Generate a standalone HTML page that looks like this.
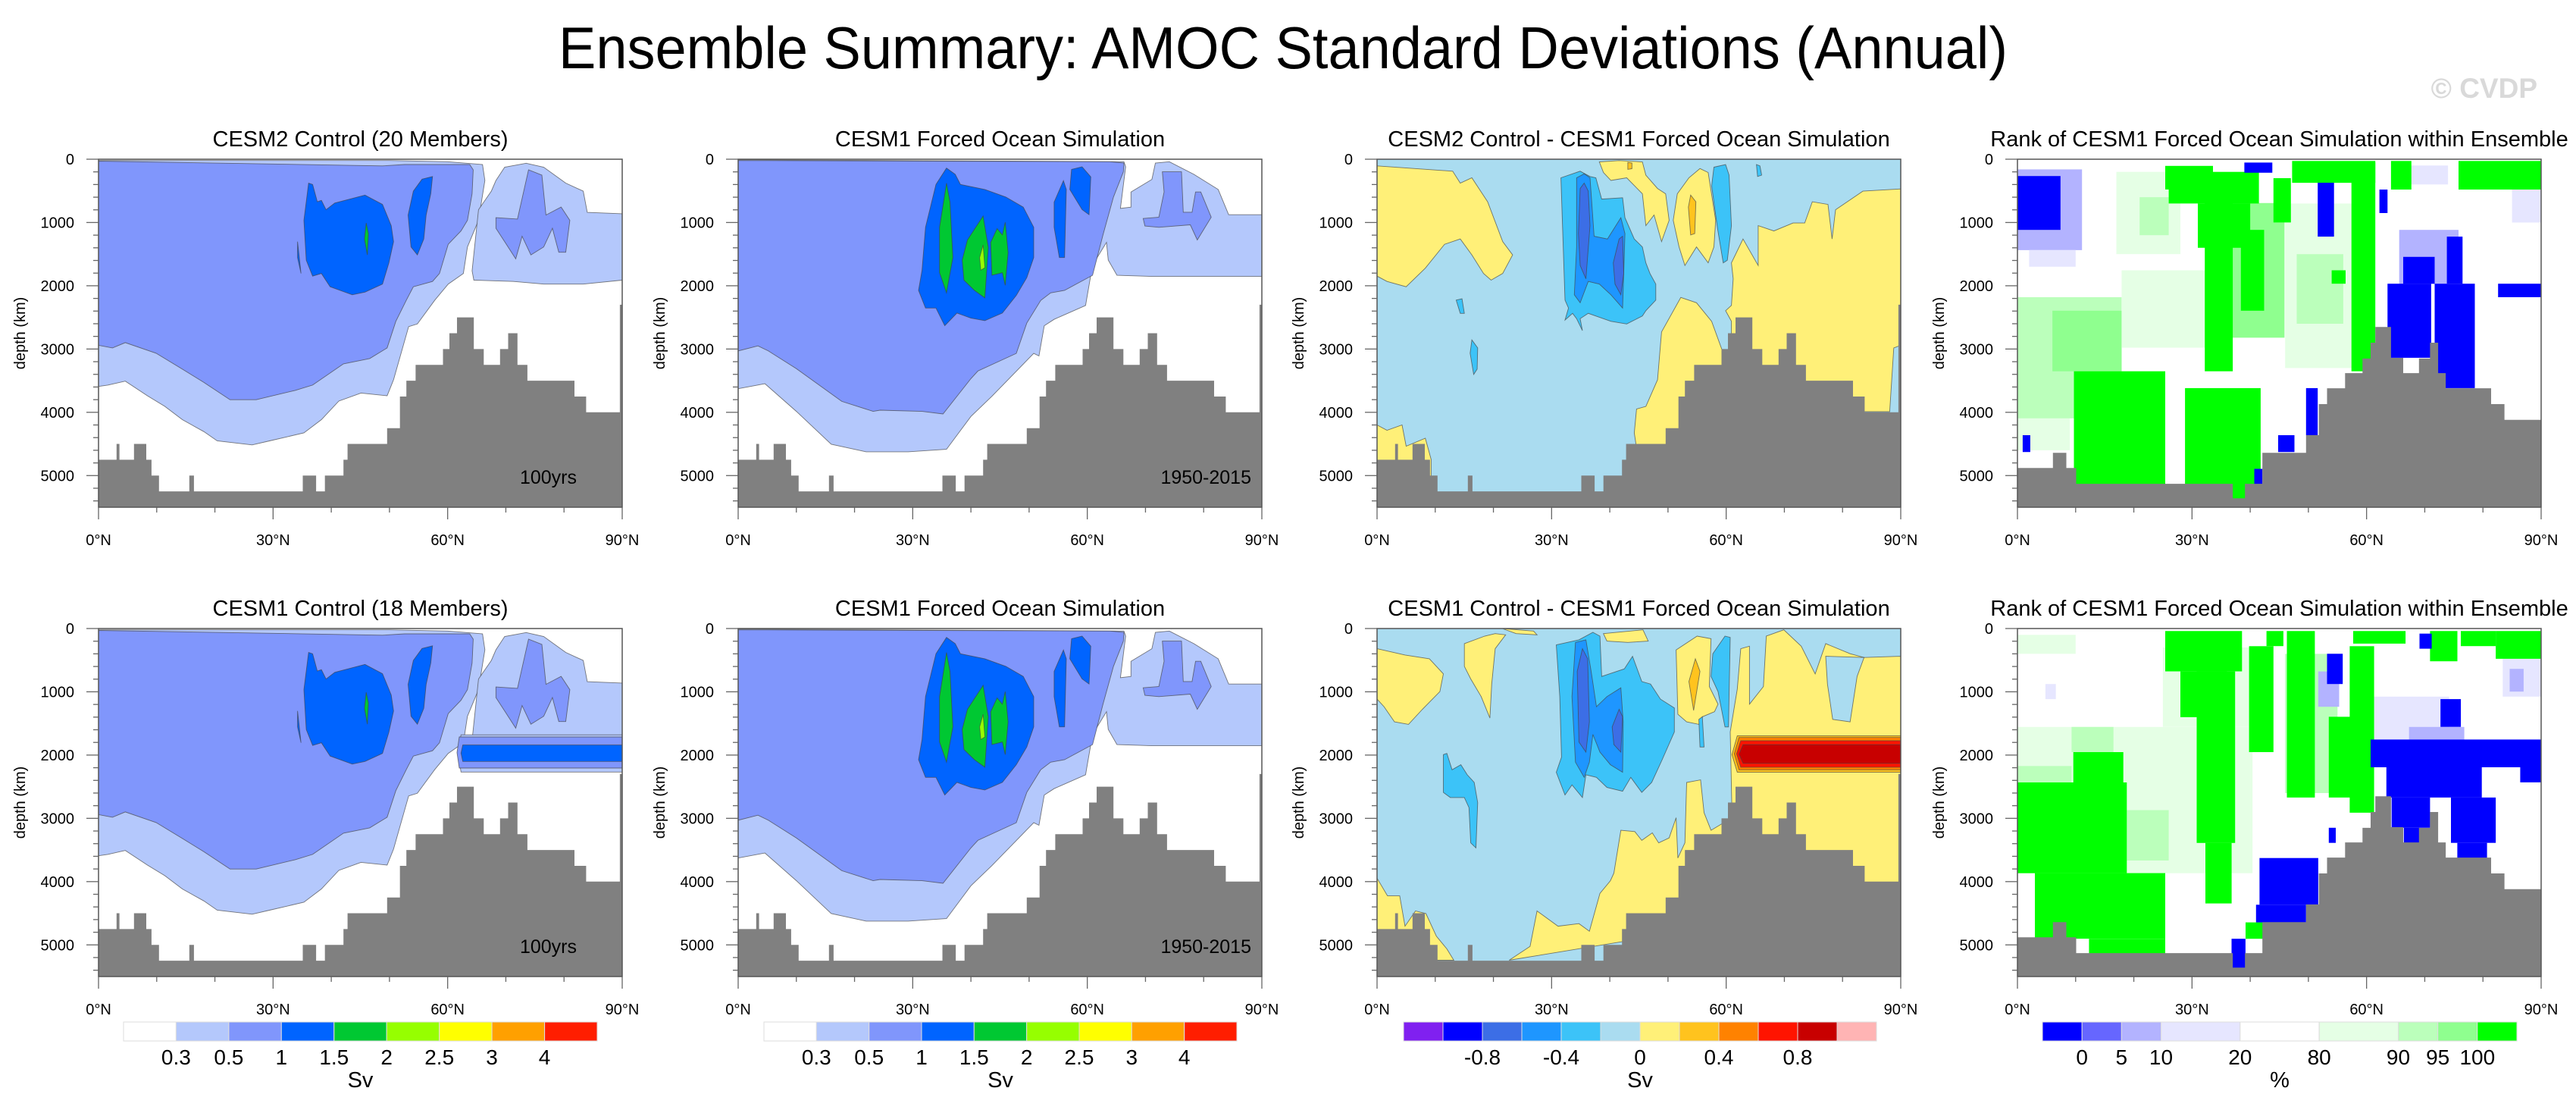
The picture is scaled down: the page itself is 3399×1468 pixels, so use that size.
<!DOCTYPE html>
<html><head><meta charset="utf-8">
<style>
html,body{margin:0;padding:0;background:#fff;width:3399px;height:1468px;overflow:hidden}
svg{display:block}
text{font-family:"Liberation Sans",sans-serif}
</style></head>
<body>
<svg id="fig" width="3399" height="1468" viewBox="0 0 3399 1468" xmlns="http://www.w3.org/2000/svg">
<text x="1693" y="90" font-size="78" text-anchor="middle" textLength="1912" lengthAdjust="spacingAndGlyphs">Ensemble Summary: AMOC Standard Deviations (Annual)</text>
<text x="3348" y="129" font-size="37" font-weight="bold" fill="#d9d9d9" text-anchor="end">© CVDP</text>
</svg>
<script>
// ---------- axes data ----------
const latTicks=[0,30,60,90];
const latTickLabels=["0°N","30°N","60°N","90°N"];
const depthTicks=[0,1000,2000,3000,4000,5000];
const depthMax=5500;

// ---------- bathymetry ----------
const bathyALat=[0,3.1,3.6,6.1,8.2,9.1,10.4,15.6,16.4,35.1,37.4,38.9,42.1,42.8,49.6,51.8,52.9,54.5,59.2,60.3,61.6,64.5,66.2,69.0,70.4,72.0,73.7,81.8,83.8,89.6];
const bathyADepth=[4750,4500,4750,4500,4750,5000,5250,5000,5250,5000,5250,5000,4750,4500,4250,3750,3500,3250,3000,2750,2500,3000,3250,3000,2750,3250,3500,3750,4000,2300];
const bathyBLat=[0,6.1,8.4,10.1,37.0,39.1,42.1,49.6,51.8,53.2,56.3,59.3,60.7,61.5,64.2,66.3,69.0,70.9,72.3,73.6,81.4,83.7];
const bathyBDepth=[4880,4640,4880,5130,5360,5130,4640,4360,3870,3620,3380,3150,2900,2650,3140,3380,3150,2900,3380,3620,3870,4120];

// ---------- panel 1 (control std dev) contours: [lat,depth,...] ----------
const p1LightMain=[0,20,50,20,60,40,66,84,66.4,336,65.3,966,63.4,1386,62.7,1806,60.1,1974,57.8,2226,54.8,2604,53.3,2646,50.7,3486,49.6,3738,45.1,3696,41.3,3822,38.3,4116,35.3,4326,29.4,4452,26.4,4515,20.4,4452,18.1,4305,14.4,4116,11.4,3906,8.4,3738,4.6,3507,1.6,3570,0,3591];
const p1LightRight=[68.3,336,69.8,126,73.5,63,76.5,126,80.3,378,83.3,504,84.0,840,90,861,90,1911,83.3,1974,76.5,1974,71.3,1932,64.5,1911,64.2,1764,65.3,798,67.5,504];
const p1MidMain=[0,30,48.8,105,52.6,84,63.8,84,64.4,168,64.2,546,63.4,966,62.3,1134,60.1,1344,58.6,1806,57.4,1932,54.1,2016,52.9,2226,51.1,2562,49.6,2982,46.6,3150,42.1,3234,36.8,3570,33.8,3654,27.1,3801,22.6,3801,18.1,3528,14.4,3318,9.9,3066,4.6,2898,2.4,2982,0,2940];
const p1MidRight=[68.3,924,72.0,945,73.9,168,76.2,252,76.9,882,79.5,756,81.0,966,80.3,1470,79.1,1470,78.0,1092,76.5,1386,74.3,1512,72.8,1218,71.7,1575,69.8,1302,68.3,1092];
const p1DeepA=[36.1,378,36.8,399,37.6,672,38.3,651,39.1,798,40.6,693,45.8,567,48.8,714,50.3,1050,50.7,1302,49.9,1638,48.8,1974,45.8,2100,43.6,2142,39.8,2016,38.3,1806,36.8,1848,35.7,1596,35.3,966];
const p1DeepSmall=[34.2,1302,34.8,1806,34.2,1554];
const p1DeepB=[55.6,315,57.4,273,57.1,546,56.3,882,55.9,1260,54.8,1512,53.7,1386,53.2,882,54.1,504];
const p1Green=[46.0,1008,46.4,1176,46.2,1512,45.7,1260];
const r2BandLight=[62.3,1680,90,1680,90,2268,62.3,2268,61.8,1970];
const r2BandMid=[62.0,1714,90,1714,90,2205,62.0,2205,61.6,1960];
const r2BandDeep=[62.6,1840,90,1840,90,2100,62.6,2100,62.3,1970];

// ---------- panel 2 (forced ocean sim) ----------
const p2Light=[0,8,66.3,40,66.6,120,65.7,777,67.5,757,67.5,518,71.1,319,71.7,60,74.1,40,78.3,239,82.5,478,84.3,877,90,877,90,1853,71.1,1853,65.1,1834,63.6,1594,63.3,1315,60.9,1674,59.7,2312,54.3,2531,52.6,2631,51.7,3109,50.8,3069,43.6,3747,40.0,4066,35.8,4584,29.2,4624,22.0,4624,16.0,4504,10.0,3986,4.6,3548,0,3627];
const p2Mid=[0,20,63.9,40,66.3,60,66.2,199,64.5,598,62.7,1196,60.9,1834,58.5,1953,56.1,2073,53.7,2113,52.0,2232,49.6,2591,47.8,3069,41.2,3348,40.0,3468,35.2,4026,31.6,3986,24.4,3966,23.2,3986,17.8,3827,10.0,3309,5.2,3030,3.4,2950,0,3030];
const p2MidRight=[72.9,199,76.2,199,76.5,837,78.0,837,78.6,518,79.5,518,81.3,917,78.9,1276,77.7,1037,72.3,1076,69.9,1056,69.6,937,72.3,917,73.2,518];
const p2DeepA=[34.0,399,35.8,140,37.3,239,38.2,399,42.4,478,44.2,538,46.0,598,49.0,757,50.8,1076,50.8,1554,49.6,1873,47.8,2152,45.4,2431,42.4,2551,40.0,2511,37.6,2431,35.5,2631,34.0,2352,32.2,2352,31.0,2073,31.6,1754,32.2,1076];
const p2DeepB=[57.3,160,59.1,120,60.6,279,60.3,877,59.1,797,57.0,478];
const p2DeepC=[55.9,339,56.4,478,56.1,1554,55.2,1554,54.3,1076,54.3,678];
const p2Green1=[35.8,379,36.4,678,36.9,1554,35.8,2113,34.6,1794,34.6,1076];
const p2Green2=[42.1,897,43.0,1395,42.4,2192,40.6,2073,38.8,1913,38.5,1594,39.4,1276];
const p2Green3=[44.5,1096,45.4,1196,45.9,997,46.4,1475,45.9,1993,45.4,1794,43.6,1834,43.4,1315];
const p2Lime=[42.1,1355,42.4,1714,41.7,1754,41.5,1555];

// ---------- panel 3 row 1 (difference) ----------
const d1Y1=[0,105,13.0,189,14.3,378,16.3,294,19.0,672,21.6,1302,23.3,1512,21.6,1806,19.6,1911,18.3,1806,16.3,1512,14.3,1260,11.6,1344,8.3,1722,5.0,2016,1.7,1932,0,1848];
const d1Y2=[61.2,1890,60.9,1638,62.9,1260,65.5,1680,65.5,1050,68.2,1134,71.5,1008,73.5,1008,74.8,672,77.5,714,78.2,1260,78.8,798,83.5,504,90,470,90,2940,88.8,2982,88.1,3990,60.9,3990,60.9,2562,59.9,2394,60.9,2310];
const d1Y3=[48.9,2730,52.2,2184,54.9,2268,57.5,2562,59.5,3066,60.9,3990,54.9,4746,44.9,4746,44.2,4326,44.6,3948,46.2,3906,48.2,3486];
const d1Y4=[38.2,42,41.6,21,45.6,42,46.2,252,48.2,462,49.6,546,50.2,966,48.9,1302,47.6,882,46.2,1050,45.6,546,42.9,294,40.2,336,38.9,210];
const d1Y5=[51.6,546,53.6,294,55.5,147,56.9,210,58.2,966,57.9,1386,56.9,1638,54.9,1386,52.9,1680,51.9,1386,50.9,966];
const d1Y6=[0,4200,1.7,4284,4.3,4200,5.0,4536,8.3,4410,9.3,4746,9.3,5300,0,5300];
const d1O1=[53.9,567,54.8,672,54.6,1176,53.9,1197,53.5,756];
const d1O2=[43.1,50,43.8,60,43.8,150,43.1,160];
const d1B1=[31.6,294,34.9,189,36.6,273,37.6,294,38.6,630,42.2,609,42.6,924,44.2,1260,45.6,1386,46.2,1638,46.9,1806,47.9,1974,47.9,2226,46.2,2394,45.6,2478,42.9,2604,40.2,2562,37.6,2478,36.3,2436,34.9,2520,35.3,2709,34.3,2520,33.6,2436,32.3,2541,32.9,2352,32.3,2226];
const d1B2=[34.3,294,35.6,231,36.6,294,37.3,1218,39.6,1260,41.9,924,42.6,1176,42.2,2352,40.2,2142,38.2,1974,36.3,1932,34.9,2268,33.9,2142,34.3,1386];
const d1B3a=[34.9,462,35.6,378,36.3,504,36.6,1050,35.9,1890,34.9,1680,34.6,1176];
const d1B3b=[41.6,1260,42.2,1218,42.4,1806,41.9,2142,40.9,1974,40.6,1638];
const d1B4=[57.9,126,59.9,84,60.5,252,60.9,1050,60.2,1596,59.5,1638,58.5,1092,57.5,420];
const d1B5=[16.3,2856,17.3,2982,17.2,3318,16.6,3402,16.0,3066];
const d1B6=[13.6,2226,14.6,2205,15.0,2436,14.3,2436];
const d1B7=[65.2,84,65.8,105,66.1,252,65.4,273];

// ---------- panel 3 row 2 (difference) ----------
const d2Y1=[0,319,4.8,418,9.0,478,11.4,717,10.8,997,7.8,1276,5.4,1515,3.0,1475,1.2,1236,0,1116];
const d2Y2=[15.0,239,18.5,120,20.3,80,22.1,100,20.3,319,19.7,877,19.4,1415,17.9,1076,16.1,797,15.0,598];
const d2Y3=[21.5,0,26.9,40,27.5,100,23.9,80];
const d2Y4=[38.9,80,45.7,20,46.6,199,43.1,219,39.5,199];
const d2Y5=[51.4,339,55.0,120,57.4,160,57.1,917,58.6,1196,58.0,1315,55.9,1395,55.3,1515,53.2,1475,51.7,1355];
const d2Y6=[60.7,1634,61.9,957,62.5,319,64.0,279,64.0,1196,66.4,917,66.9,120,69.9,20,72.9,279,75.3,718,77.1,239,81.3,398,83.7,458,90,438,90,4664,60.7,4664,61.0,2910];
const d2LB=[77.1,438,83.7,458,82.5,757,81.3,1475,78.3,1435,77.4,877];
const d2Y7=[41.9,3189,44.3,3209,45.5,3348,47.3,3229,48.4,3388,50.2,3309,51.4,2990,51.7,3627,52.9,3388,53.2,2432,55.6,2392,56.2,2910,57.4,3189,61.0,2990,61.0,4664,22.7,5242,26.3,5023,27.5,4464,31.1,4704,34.7,4664,36.5,4784,38.3,4185,40.1,3986,40.7,3866];
const d2Y8=[0,3946,1.8,4225,3.9,4225,4.8,4704,6.6,4464,8.4,4504,10.2,4863,12.0,5063,13.2,5242,0,5242];
const d2O1=[54.7,478,55.5,678,54.4,1295,53.6,837];
const d2Band1=[61.9,1694,90,1694,90,2272,61.9,2272,61.0,1993];
const d2Band2=[62.2,1722,90,1722,90,2232,62.2,2232,61.4,1980];
const d2Band3=[62.5,1774,90,1774,90,2192,62.5,2192,61.8,1980];
const d2Band4=[62.9,1834,90,1834,90,2132,62.9,2132,62.2,1985];
const d2B1=[30.8,259,34.7,179,37.1,60,38.3,120,38.6,757,42.5,638,43.9,439,45.5,837,47.0,877,48.7,1116,51.1,1256,51.1,1634,49.0,2073,47.2,2432,45.5,2591,43.6,2352,42.2,2571,39.5,2511,37.7,2352,35.9,2312,35.3,2671,33.5,2471,32.3,2631,30.8,2272,31.7,2033,31.4,1076];
const d2B2=[34.1,219,35.9,179,36.8,678,37.7,1236,39.5,1076,41.9,937,42.3,1475,42.2,2272,40.1,2152,38.3,1953,37.1,1674,36.5,2113,35.6,2352,34.1,2113,33.5,1076];
const d2B3a=[35.3,319,36.2,478,36.5,1475,35.9,1953,34.7,1794,34.4,678];
const d2B3b=[41.6,1276,42.2,1395,41.9,1953,40.7,1834,40.4,1555];
const d2B4=[11.4,1993,12.0,1973,12.9,2232,14.4,2152,15.5,2312,16.7,2432,17.3,2751,17.0,3468,16.1,3388,15.8,2830,15.0,2671,13.8,2671,12.6,2671,11.4,2591];
const d2B5=[57.7,399,59.8,120,60.7,140,60.4,1555,59.8,1555,58.6,997,57.4,757];
const d2B6=[55.3,1435,55.9,1395,56.2,1873,55.5,1873];

// ---------- rank panels: [lat0,lat1,depth0,depth1,category] ----------
const rank1Cells=[
[0,9,4096,4600,5],[0,17.9,2181,4096,6],[6.0,17.9,2394,3352,7],[17.9,32.9,1756,2979,5],[17,28,200,1500,5],[21,26,600,1200,6],
[36.3,45.9,692,2820,7],[46,60,700,3300,5],[48,56,1500,2600,6],[66,74,100,400,3],[85,90,400,1000,3],
[0,11.1,160,1436,2],[2,10,1436,1700,3],[65.6,75.8,1117,1968,2],
[25.4,33.6,106,479,8],[26,41.5,200,700,8],[31,40,700,1400,8],[32.2,37.0,372,3352,8],[38.4,42.4,1117,2394,8],[9.7,25.4,3352,5373,8],[28.8,41.8,3618,5373,8],[47.2,61.5,27,372,8],[57.4,61.5,53,3352,8],[64.2,67.7,27,479,8],[75.8,90,27,479,8],[54.0,56.4,1756,1968,8],[44,47,300,1000,8],
[0,7.4,266,1117,0],[51.6,54.4,372,1224,0],[62.2,63.6,479,851,0],[63.6,71.1,1968,3139,0],[66.3,71.7,1543,1968,0],[71.7,78.6,1968,3618,0],[73.8,76.5,1224,1968,0],[82.6,90,1968,2181,0],[49.6,51.6,3618,4362,0],[44.8,47.6,4362,4628,0],[10.4,12.8,5134,5373,0],[40.7,42.1,4894,5134,0],[39.0,43.8,53,213,0],[0.9,2.2,4362,4628,0]
];
const rank2Cells=[
[0,40.4,1555,3866,5],[25,40,300,1555,5],[61.3,74.2,1076,1754,3],[83.4,90,478,1076,3],[4.8,6.6,877,1116,3],[0,10,100,400,5],
[9.3,16.5,1555,1953,6],[18.8,26.0,2870,3667,6],[0,9.3,2172,2432,6],[46,55,400,2600,6],
[0,18.8,2432,3866,8],[9.6,18.2,1953,2432,8],[3.0,25.4,3866,4903,8],[12.3,25.4,4903,5142,8],[15.8,19.1,5142,5381,8],
[25.4,38.6,40,678,8],[28,36,678,1400,8],[30.8,37.4,678,3388,8],[32.3,36.8,3388,4345,8],[39.8,44.0,279,1953,8],[42.8,45.7,40,279,8],
[46.3,51.1,40,2671,8],[53.5,58.3,1395,2671,8],[57.1,61.3,279,2910,8],[57.7,66.7,40,239,8],[70.9,75.6,40,518,8],[82.2,90,40,478,8],[76.2,82.2,40,279,8],[39.2,42.5,4644,4903,8],
[51.7,55.3,678,1236,2],[67.3,76.8,1555,1754,2],[84.6,87.0,638,997,2],
[60.7,90,1754,2192,0],[63.4,79.8,2192,2671,0],[86.4,90,2192,2432,0],[64.3,70.9,2671,3149,0],[66.4,69.1,3149,3388,0],[74.5,82.2,2671,3388,0],[75.6,80.7,3388,3627,0],[72.7,76.2,1116,1555,0],[53.2,55.9,399,877,0],[41.6,51.7,3627,4365,0],[41.0,49.6,4365,4644,0],[29.9,35.0,5142,5381,0],[36.8,39.2,4903,5381,0],[53.5,54.7,3149,3388,0],[69.1,71.2,80,319,0]
];

// ---------- colour scales ----------
const sdColors=["#ffffff","#b4c8fc","#8096fc","#0064ff","#00c832","#96ff00","#ffff00","#ffa000","#ff1e00"];
const sdLabels=["0.3","0.5","1","1.5","2","2.5","3","4"];
const diffColors=["#8020f0","#0000ff","#3c6ee6","#1e96ff","#3cc3f8","#aadcf0","#fff078","#ffc31e","#ff8200","#ff1400","#c80000","#ffb4b4"];
const diffLabels=["-0.8","-0.4","0","0.4","0.8"];
const rankColors=["#0000ff","#6666ff","#b3b3ff","#e6e6ff","#ffffff","#e5ffe5","#bbffbb","#8fff8f","#00ff00"];
const rankWidths=[1,1,1,2,2,2,1,1,1];
const rankLabels=["0","5","10","20","80","90","95","100"];

// ---------- layout ----------
const NS="http://www.w3.org/2000/svg";
const svg=document.getElementById('fig');
const lefts=[130,974,1817,2662], tops=[210,829], PW=691, PH=459;
function el(tag,attrs,parent){const e=document.createElementNS(NS,tag);for(const k in attrs)e.setAttribute(k,attrs[k]);(parent||svg).appendChild(e);return e;}
function xS(c,lat){return lefts[c]+lat/90*PW;}
function yS(r,d){return tops[r]+d/depthMax*PH;}

const C={L:"#b4c8fc",M:"#8096fc",D:"#0064ff",G:"#00c832",YG:"#96ff00",BG:"#aadcf0",Y:"#fff078",O:"#ffc31e",B1:"#3cc3f8",B2:"#1e96ff",B3:"#3c6ee6",OR:"#ff8200",R:"#ff1400",DR:"#c80000"};

const panels=[
 {r:0,c:0,title:"CESM2 Control (20 Members)",bg:"#fff",bathy:"A",note:"100yrs",noteX:761,
  layers:[[p1LightMain,C.L],[p1LightRight,C.L],[p1MidMain,C.M],[p1MidRight,C.M],[p1DeepA,C.D],[p1DeepSmall,C.D],[p1DeepB,C.D],[p1Green,C.G]]},
 {r:0,c:1,title:"CESM1 Forced Ocean Simulation",bg:"#fff",bathy:"A",note:"1950-2015",noteX:1651,
  layers:[[p2Light,C.L],[p2Mid,C.M],[p2MidRight,C.M],[p2DeepA,C.D],[p2DeepB,C.D],[p2DeepC,C.D],[p2Green1,C.G],[p2Green2,C.G],[p2Green3,C.G],[p2Lime,C.YG]]},
 {r:0,c:2,title:"CESM2 Control - CESM1 Forced Ocean Simulation",bg:C.BG,bathy:"A",
  layers:[[d1Y1,C.Y],[d1Y2,C.Y],[d1Y3,C.Y],[d1Y4,C.Y],[d1Y5,C.Y],[d1Y6,C.Y],[d1O1,C.O],[d1O2,C.O],[d1B1,C.B1],[d1B2,C.B2],[d1B3a,C.B3],[d1B3b,C.B3],[d1B4,C.B1],[d1B5,C.B1],[d1B6,C.B1],[d1B7,C.B1]]},
 {r:0,c:3,title:"Rank of CESM1 Forced Ocean Simulation within Ensemble",bg:"#fff",bathy:"B",rank:rank1Cells},
 {r:1,c:0,title:"CESM1 Control (18 Members)",bg:"#fff",bathy:"A",note:"100yrs",noteX:761,
  layers:[[p1LightMain,C.L],[p1LightRight,C.L],[p1MidMain,C.M],[p1MidRight,C.M],[p1DeepA,C.D],[p1DeepSmall,C.D],[p1DeepB,C.D],[p1Green,C.G],[r2BandLight,C.L],[r2BandMid,C.M],[r2BandDeep,C.D]]},
 {r:1,c:1,title:"CESM1 Forced Ocean Simulation",bg:"#fff",bathy:"A",note:"1950-2015",noteX:1651,
  layers:[[p2Light,C.L],[p2Mid,C.M],[p2MidRight,C.M],[p2DeepA,C.D],[p2DeepB,C.D],[p2DeepC,C.D],[p2Green1,C.G],[p2Green2,C.G],[p2Green3,C.G],[p2Lime,C.YG]]},
 {r:1,c:2,title:"CESM1 Control - CESM1 Forced Ocean Simulation",bg:C.BG,bathy:"A",
  layers:[[d2Y1,C.Y],[d2Y2,C.Y],[d2Y3,C.Y],[d2Y4,C.Y],[d2Y5,C.Y],[d2Y6,C.Y],[d2LB,C.BG],[d2Y7,C.Y],[d2Y8,C.Y],[d2O1,C.O],[d2Band1,C.O],[d2Band2,C.OR],[d2Band3,C.R],[d2Band4,C.DR],[d2B1,C.B1],[d2B2,C.B2],[d2B3a,C.B3],[d2B3b,C.B3],[d2B4,C.B1],[d2B5,C.B1],[d2B6,C.B1]]},
 {r:1,c:3,title:"Rank of CESM1 Forced Ocean Simulation within Ensemble",bg:"#fff",bathy:"B",rank:rank2Cells}
];

panels.forEach((p,pi)=>{
  const g=el('g',{});
  
  
  const L=lefts[p.c],T=tops[p.r];
  const clipId='clip'+pi;
  const cp=el('clipPath',{id:clipId},g);
  el('rect',{x:L,y:T,width:PW,height:PH},cp);
  const plot=el('g',{'clip-path':'url(#'+clipId+')'},g);
  
  
  const bg=el('rect',{x:L,y:T,width:PW,height:PH,fill:p.bg},plot);
  
  
  if(p.layers){
    p.layers.forEach((ly,li)=>{
      const arr=ly[0];let d='';
      for(let i=0;i<arr.length;i+=2){d+=(i?'L':'M')+xS(p.c,arr[i]).toFixed(1)+','+yS(p.r,arr[i+1]).toFixed(1);}
      const path=el('path',{d:d+'Z',fill:ly[1],stroke:'#444','stroke-width':0.9,'stroke-opacity':0.7},plot);
      
      
    });
  }
  if(p.rank){
    p.rank.forEach(cell=>{
      const x0=xS(p.c,cell[0]),x1=xS(p.c,cell[1]),y0=yS(p.r,cell[2]),y1=yS(p.r,cell[3]);
      const r=el('rect',{x:x0.toFixed(1),y:y0.toFixed(1),width:(x1-x0).toFixed(1),height:(y1-y0).toFixed(1),fill:rankColors[cell[4]]},plot);
      
      
    });
  }
  const bl=p.bathy==='A'?bathyALat:bathyBLat, bd=p.bathy==='A'?bathyADepth:bathyBDepth;
  let d='M'+xS(p.c,0)+','+yS(p.r,depthMax);
  for(let i=0;i<bl.length;i++){
    const x0=xS(p.c,bl[i]),x1=xS(p.c,i+1<bl.length?bl[i+1]:90),y=yS(p.r,bd[i]);
    d+='L'+x0.toFixed(1)+','+y.toFixed(1)+'L'+x1.toFixed(1)+','+y.toFixed(1);
  }
  d+='L'+xS(p.c,90)+','+yS(p.r,depthMax)+'Z';
  const ba=el('path',{d:d,fill:'#808080'},plot);
  
  
  const fr=el('rect',{x:L,y:T,width:PW,height:PH,fill:'none',stroke:'#555','stroke-width':1.5},g);
  
  
  for(let dd=0;dd<=5400;dd+=200){
    const major=dd%1000===0,y=yS(p.r,dd);
    const t=el('line',{x1:L-(major?16:7),x2:L,y1:y,y2:y,stroke:'#666','stroke-width':1.3},g);
    
    
  }
  depthTicks.forEach(v=>{
    const t=el('text',{x:L-32,y:yS(p.r,v)+7,'font-size':20,'text-anchor':'end'},g);
    t.textContent=String(v);
    
    
  });
  for(let lat=0;lat<=90;lat+=10){
    const major=lat%30===0,x=xS(p.c,lat);
    const t=el('line',{x1:x,x2:x,y1:T+PH,y2:T+PH+(major?16:7),stroke:'#666','stroke-width':1.3},g);
    
    
  }
  latTicks.forEach((v,i)=>{
    const t=el('text',{x:xS(p.c,v),y:T+PH+50,'font-size':20,'text-anchor':'middle'},g);
    t.textContent=latTickLabels[i];
    
    
  });
  const yt=el('text',{x:0,y:0,'font-size':20,'text-anchor':'middle',transform:'translate('+(L-97)+','+(T+PH/2)+') rotate(-90)'},g);
  yt.textContent='depth (km)';
  
  
  const tt=el('text',{x:L+PW/2,y:T-17,'font-size':29,'text-anchor':'middle'},g);
  tt.textContent=p.title;
  
  
  if(p.note){
    const nt=el('text',{x:p.noteX,y:T+PH-31,'font-size':25,'text-anchor':'end'},g);
    nt.textContent=p.note;
    
    
  }
});

const bars=[
 {x0:163,x1:788,colors:sdColors,widths:sdColors.map(()=>1),labels:sdLabels,labelAt:[1,2,3,4,5,6,7,8],unit:"Sv"},
 {x0:1008,x1:1632,colors:sdColors,widths:sdColors.map(()=>1),labels:sdLabels,labelAt:[1,2,3,4,5,6,7,8],unit:"Sv"},
 {x0:1852,x1:2476,colors:diffColors,widths:diffColors.map(()=>1),labels:diffLabels,labelAt:[2,4,6,8,10],unit:"Sv"},
 {x0:2695,x1:3321,colors:rankColors,widths:rankWidths,labels:rankLabels,labelAt:[1,2,3,5,7,9,10,11],unit:"%"}
];
bars.forEach((b,bi)=>{
  const g=el('g',{});
  
  
  const tot=b.widths.reduce((a,c)=>a+c,0),u=(b.x1-b.x0)/tot;
  let acc=0;
  b.colors.forEach((col,i)=>{
    const r=el('rect',{x:(b.x0+acc*u).toFixed(1),y:1348,width:(b.widths[i]*u).toFixed(1),height:25,fill:col,stroke:'#ddd','stroke-width':1},g);
    
    
    acc+=b.widths[i];
  });
  b.labels.forEach((lab,i)=>{
    const t=el('text',{x:(b.x0+b.labelAt[i]*u).toFixed(1),y:1404,'font-size':28,'text-anchor':'middle'},g);
    t.textContent=lab;
    
    
  });
  const ut=el('text',{x:(b.x0+b.x1)/2,y:1434,'font-size':29,'text-anchor':'middle'},g);
  ut.textContent=b.unit;
  
  
});
</script>
</body></html>
